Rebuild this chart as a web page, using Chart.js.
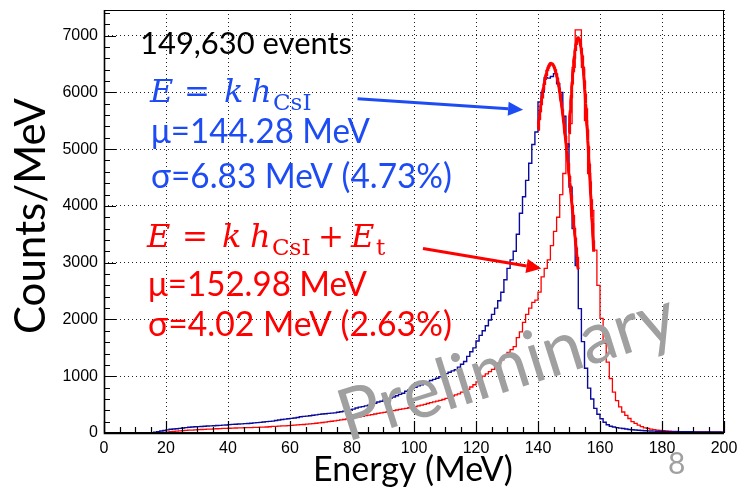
<!DOCTYPE html>
<html>
<head>
<meta charset="utf-8">
<script src="https://cdn.jsdelivr.net/npm/chart.js@4.4.1/dist/chart.umd.min.js"></script>
<style>
  html, body { margin: 0; padding: 0; background: #fff; }
  #wrap { width: 739px; height: 490px; position: relative; }
  canvas { display: block; }
</style>
</head>
<body>
<div id="wrap"><canvas id="chart" width="739" height="490"></canvas></div>
<script>
// Energy spectrum, 1 MeV bins from 0 to 200 MeV (value = counts in bin [E, E+1))
const binLowEdges = Array.from({ length: 200 }, (_, i) => i);
const binUpperEdge = 200;

// E = k h_CsI
const countsCsI = [
  0,0,0,0,0,0,0,0,0,0,
  0,0,0,0,0,5,15,25,35,45,
  55,65,70,75,82,88,95,100,105,110,
  112,115,118,122,126,128,132,135,138,142,
  148,152,155,158,160,165,168,172,178,182,
  188,195,200,205,210,220,228,238,245,252,
  258,265,272,285,292,298,305,312,320,328,
  335,340,345,350,355,365,375,385,398,410,
  420,440,455,465,478,490,505,525,545,560,
  580,595,615,635,655,680,700,735,760,785,
  805,830,850,880,905,925,945,965,990,1010,
  1045,1070,1095,1115,1160,1210,1260,1350,1430,1500,
  1620,1720,1800,1890,1990,2090,2200,2330,2480,2700,
  2900,3050,3200,3500,3870,4160,4450,4750,5080,5300,
  5830,6000,6260,6250,6280,6330,6150,6000,5580,5090,
  4330,3600,2950,2190,1610,1140,790,600,434,330,
  250,190,145,120,105,95,85,80,70,62,
  58,52,48,44,40,38,36,33,30,28,
  26,25,24,24,23,23,22,22,21,21,
  20,20,19,19,18,18,18,17,17,16
];

// E = k h_CsI + E_t
const countsCsIPlusEt = [
  0,0,0,0,0,0,0,0,0,0,
  0,0,0,0,0,0,0,3,6,10,
  15,22,28,33,38,42,46,50,52,55,
  58,62,65,68,70,72,75,77,80,82,
  84,86,88,90,92,93,95,96,98,100,
  102,104,106,110,115,118,121,124,127,130,
  133,138,142,146,150,155,160,165,172,178,
  185,192,200,207,214,222,230,238,248,256,
  265,275,285,295,305,315,325,335,345,355,
  365,375,385,395,405,415,425,435,445,455,
  465,478,490,505,520,535,548,560,575,590,
  610,630,650,670,690,720,740,770,810,850,
  900,960,1000,1040,1080,1120,1180,1230,1290,1340,
  1420,1470,1520,1680,1780,1950,2090,2200,2300,2340,
  2480,2750,2900,3050,3300,3550,3800,4200,4570,5040,
  5450,6440,7100,7100,6440,5500,4570,3920,3220,2600,
  2020,1580,1250,960,720,570,460,370,310,255,
  200,170,140,112,92,80,68,60,52,46,
  40,35,31,29,27,25,24,23,22,21,
  20,19,19,18,18,17,17,16,16,15
];

// Gaussian fits: mean, sigma (MeV), peak height (counts/MeV), fit range
const fitMeans  = [144.28, 152.98];
const fitSigmas = [6.83, 4.02];
const fitPeaks  = [6510, 6960];
const fitRanges = [[140, 153], [150, 158]];

// Axis ticks
const xTickValues = [0, 20, 40, 60, 80, 100, 120, 140, 160, 180, 200];
const yTickValues = [0, 1000, 2000, 3000, 4000, 5000, 6000, 7000];
const xMinorStep = 5;
const yMinorStep = 200;
const yAxisMax = 7450;

const BLUE_TEXT = '#1d4cf4';
const RED = '#ff0000';
const HIST_BLUE = '#0a0a9c';
const GREY = '#a0a0a0';

function histPoints(counts) {
  const pts = binLowEdges.map((e, i) => ({ x: e, y: counts[i] }));
  pts.push({ x: binUpperEdge, y: counts[counts.length - 1] });
  return pts;
}

function fitPoints(k) {
  const [lo, hi] = fitRanges[k];
  const pts = [];
  for (let e = lo; e <= hi + 1e-9; e += 0.1) {
    const d = (e - fitMeans[k]) / fitSigmas[k];
    pts.push({ x: e, y: fitPeaks[k] * Math.exp(-0.5 * d * d) });
  }
  return pts;
}

function drawArrow(ctx, x0, y0, x1, y1, color) {
  const ang = Math.atan2(y1 - y0, x1 - x0);
  const headLen = 15, headHalf = 7;
  const bx = x1 - headLen * Math.cos(ang), by = y1 - headLen * Math.sin(ang);
  ctx.save();
  ctx.strokeStyle = color; ctx.fillStyle = color; ctx.lineWidth = 3;
  ctx.beginPath(); ctx.moveTo(x0, y0); ctx.lineTo(bx, by); ctx.stroke();
  ctx.beginPath();
  ctx.moveTo(x1, y1);
  ctx.lineTo(bx + headHalf * Math.sin(ang), by - headHalf * Math.cos(ang));
  ctx.lineTo(bx - headHalf * Math.sin(ang), by + headHalf * Math.cos(ang));
  ctx.closePath(); ctx.fill();
  ctx.restore();
}

function text(ctx, s, x, y, font, color, maxW) {
  ctx.font = font; ctx.fillStyle = color;
  ctx.textAlign = 'left'; ctx.textBaseline = 'alphabetic';
  if (maxW) ctx.fillText(s, x, y, maxW); else ctx.fillText(s, x, y);
}

// keep the plot frame exactly where the layout puts it
function noScalePadding(s) {
  s.paddingLeft = 0; s.paddingRight = 0; s.paddingTop = 0; s.paddingBottom = 0;
}

// Frame, inward ticks, labels, arrows and watermark
const decorations = {
  id: 'decorations',
  afterDatasetsDraw(chart) {
    const { ctx, chartArea: a, scales: { x, y } } = chart;
    ctx.save();

    // frame
    ctx.strokeStyle = '#000'; ctx.lineWidth = 1;
    ctx.strokeRect(a.left + 0.5, a.top + 0.5, a.right - a.left - 1, a.bottom - a.top - 1);
    ctx.lineWidth = 1.6;
    ctx.beginPath();
    ctx.moveTo(a.left + 0.5, a.top); ctx.lineTo(a.left + 0.5, a.bottom + 0.5); ctx.lineTo(a.right, a.bottom + 0.5);
    ctx.stroke();

    // inward tick marks
    ctx.lineWidth = 1.2;
    ctx.beginPath();
    for (let v = x.min; v <= x.max; v += xMinorStep) {
      const px = Math.round(x.getPixelForValue(v)) + 0.5;
      const len = (v % 20 === 0) ? 12 : 6;
      ctx.moveTo(px, a.bottom); ctx.lineTo(px, a.bottom - len);
    }
    for (let v = 0; v <= y.max; v += yMinorStep) {
      const py = Math.round(y.getPixelForValue(v)) + 0.5;
      const len = (v % 1000 === 0) ? 12 : 6;
      ctx.moveTo(a.left, py); ctx.lineTo(a.left + len, py);
    }
    ctx.stroke();

    // axis titles
    ctx.save();
    ctx.translate(45, 216); ctx.rotate(-Math.PI / 2);
    ctx.font = '42px Lato'; ctx.fillStyle = '#000'; ctx.textAlign = 'center'; ctx.textBaseline = 'alphabetic';
    ctx.fillText('Counts/MeV', 0, 0);
    ctx.restore();
    ctx.font = '34px Lato'; ctx.fillStyle = '#000'; ctx.textAlign = 'center';
    ctx.fillText('Energy (MeV)', 413, 481);

    // annotation text
    text(ctx, '149,630 events', 140, 54, '31px Lato', '#000', 212);

    const serifI = 'italic 32px "DejaVu Serif"';
    const serif = '31px "DejaVu Serif"';
    const sub = '23px "DejaVu Serif"';
    text(ctx, 'E', 150, 102, serifI, BLUE_TEXT);
    text(ctx, '=', 184, 102, serif, BLUE_TEXT);
    text(ctx, 'k', 224, 102, serifI, BLUE_TEXT);
    text(ctx, 'h', 251, 102, serifI, BLUE_TEXT);
    text(ctx, 'CsI', 273, 110, sub, BLUE_TEXT);
    text(ctx, '\u03bc=' + fitMeans[0].toFixed(2) + ' MeV', 151, 143, '34px Lato', BLUE_TEXT, 219);
    text(ctx, '\u03c3=6.83 MeV (4.73%)', 151, 188, '34px Lato', BLUE_TEXT, 301);

    text(ctx, 'E', 147, 247, serifI, RED);
    text(ctx, '=', 182, 247, serif, RED);
    text(ctx, 'k', 222, 247, serifI, RED);
    text(ctx, 'h', 250, 247, serifI, RED);
    text(ctx, 'CsI', 272, 255, sub, RED);
    text(ctx, '+', 318, 247, serif, RED);
    text(ctx, 'E', 351, 247, serifI, RED);
    text(ctx, 't', 376, 255, sub, RED);
    text(ctx, '\u03bc=' + fitMeans[1].toFixed(2) + ' MeV', 148, 296, '34px Lato', RED, 219);
    text(ctx, '\u03c3=4.02 MeV (2.63%)', 148, 336, '34px Lato', RED, 304);

    // arrows pointing at the two peaks (data coordinates)
    drawArrow(ctx, x.getPixelForValue(81.8), y.getPixelForValue(5888),
                   x.getPixelForValue(135.2), y.getPixelForValue(5694), BLUE_TEXT);
    drawArrow(ctx, x.getPixelForValue(102.9), y.getPixelForValue(3249),
                   x.getPixelForValue(141.1), y.getPixelForValue(2897), RED);

    // watermark
    ctx.save();
    ctx.translate(347, 442); ctx.rotate(-17.5 * Math.PI / 180);
    ctx.font = '72px Lato'; ctx.fillStyle = GREY; ctx.textAlign = 'left';
    ctx.fillText('Preliminary', 0, 0, 350);
    ctx.restore();

    // page number
    text(ctx, '8', 668, 474, '30px Lato', GREY);

    ctx.restore();
  }
};

new Chart(document.getElementById('chart'), {
  type: 'line',
  data: {
    datasets: [
      { label: 'fit CsI', data: fitPoints(0), borderColor: RED, borderWidth: 3, pointRadius: 0, tension: 0, order: 0 },
      { label: 'fit CsI+Et', data: fitPoints(1), borderColor: RED, borderWidth: 3, pointRadius: 0, tension: 0, order: 0 },
      { label: 'E = k h_CsI', data: histPoints(countsCsI), borderColor: HIST_BLUE, borderWidth: 1.4, pointRadius: 0, stepped: true, order: 1 },
      { label: 'E = k h_CsI + E_t', data: histPoints(countsCsIPlusEt), borderColor: RED, borderWidth: 1.3, pointRadius: 0, stepped: true, order: 2 }
    ]
  },
  options: {
    responsive: false,
    animation: false,
    devicePixelRatio: 1,
    layout: { padding: { top: 10, right: 15, left: 0, bottom: 0 } },
    plugins: { legend: { display: false }, tooltip: { enabled: false } },
    scales: {
      x: {
        type: 'linear', min: 0, max: 200,
        afterBuildTicks: s => { s.ticks = xTickValues.map(v => ({ value: v })); },
        afterFit: s => { s.height = 57; noScalePadding(s); },
        grid: { color: '#222', lineWidth: 1, drawTicks: false },
        border: { display: false, dash: [1, 3] },
        ticks: { color: '#000', font: { family: '"Liberation Sans"', size: 16 }, padding: 6, maxRotation: 0, autoSkip: false, callback: v => String(v) }
      },
      y: {
        type: 'linear', min: 0, max: yAxisMax,
        afterBuildTicks: s => { s.ticks = yTickValues.map(v => ({ value: v })); },
        afterFit: s => { s.width = 104; noScalePadding(s); },
        grid: { color: '#222', lineWidth: 1, drawTicks: false },
        border: { display: false, dash: [1, 3] },
        ticks: { color: '#000', font: { family: '"Liberation Sans"', size: 16 }, padding: 6, autoSkip: false, callback: v => String(v) }
      }
    }
  },
  plugins: [decorations]
});
</script>
</body>
</html>
